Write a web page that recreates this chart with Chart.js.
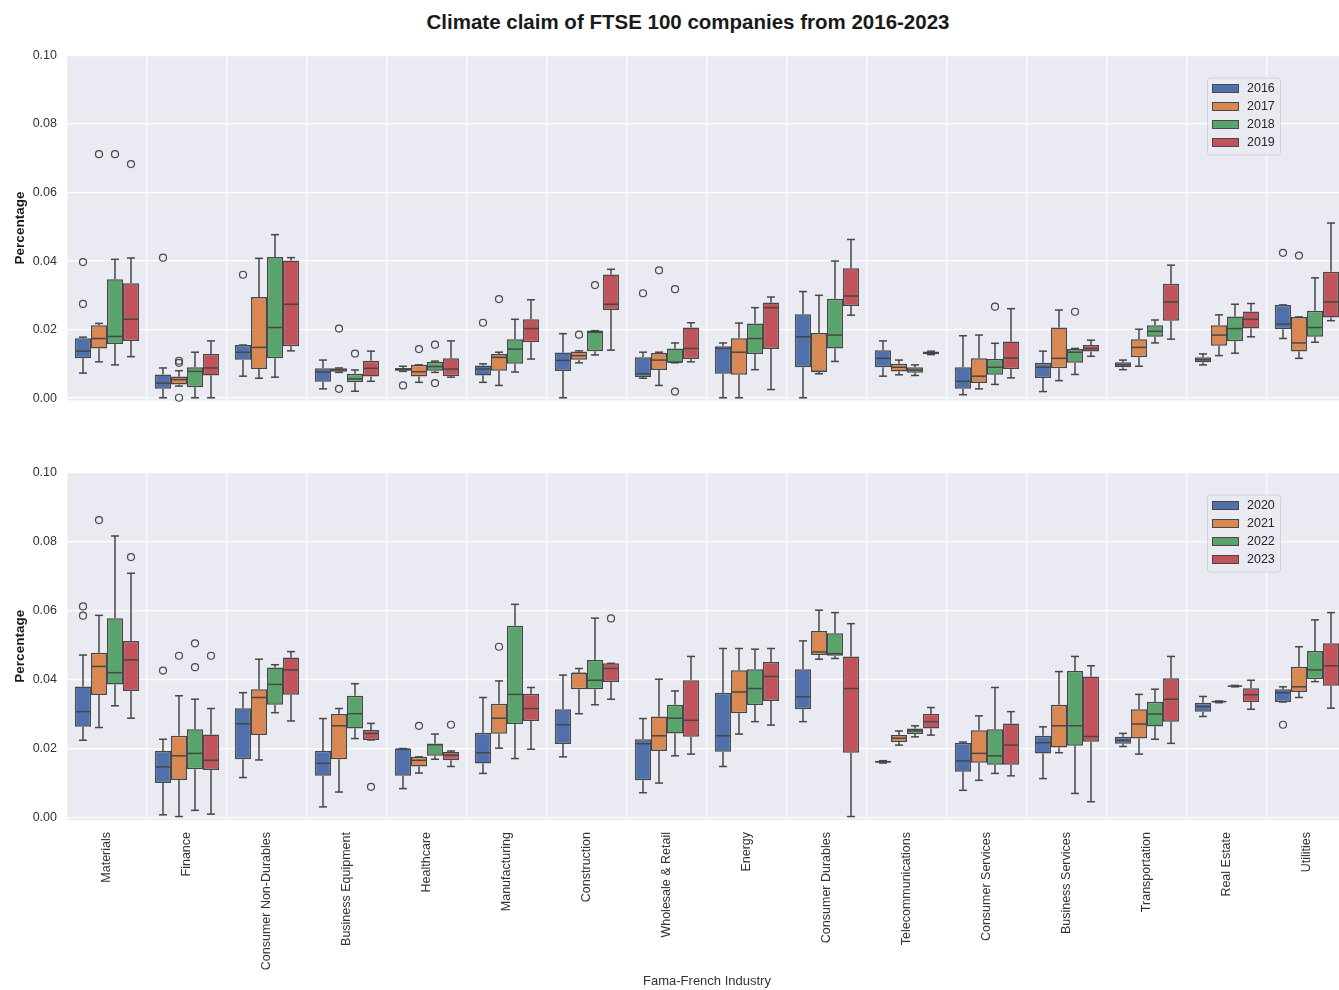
<!DOCTYPE html>
<html>
<head>
<meta charset="utf-8">
<script src="https://cdn.jsdelivr.net/npm/chart.js@4.4.0/dist/chart.umd.min.js"></script>
<style>
  body { margin: 0; background: #fff; overflow: hidden; width: 1339px; height: 990px; position: relative; }
  #title { position: absolute; top: 10px; left: 0; width: 1376px; text-align: center;
           font: bold 20.5px "Liberation Sans", Arial, sans-serif; color: #1a1a1a; }
  .panel { position: absolute; left: 0; }
</style>
</head>
<body>
<div id="title">Climate claim of FTSE 100 companies from 2016-2023</div>
<div class="panel" style="top:38px"><canvas id="topChart" width="1347" height="380"></canvas></div>
<div class="panel" style="top:455px"><canvas id="bottomChart" width="1347" height="535"></canvas></div>
<script>
// Fama-French industries on the x axis
const industries = [
  'Materials', 'Finance', 'Consumer Non-Durables', 'Business Equipment', 'Healthcare',
  'Manufacturing', 'Construction', 'Wholesale & Retail', 'Energy', 'Consumer Durables',
  'Telecommunications', 'Consumer Services', 'Business Services', 'Transportation',
  'Real Estate', 'Utilities'
];
const yearsTop = ['2016', '2017', '2018', '2019'];
const yearsBottom = ['2020', '2021', '2022', '2023'];
const yTicks = [0, 0.02, 0.04, 0.06, 0.08, 0.10];

// box stats per industry: [lower whisker, q1, median, q3, upper whisker]
const box2016 = [
  [0.0073, 0.0116, 0.0137, 0.0175, 0.0178], [0.0001, 0.0027, 0.0044, 0.0069, 0.0088],
  [0.0064, 0.0112, 0.0134, 0.0155, 0.0155], [0.0027, 0.0048, 0.0076, 0.0087, 0.0111],
  [0.0078, 0.0080, 0.0083, 0.0088, 0.0093], [0.0046, 0.0066, 0.0085, 0.0095, 0.0100],
  [0.0001, 0.0079, 0.0110, 0.0133, 0.0188], [0.0058, 0.0061, 0.0071, 0.0119, 0.0134],
  [0.0001, 0.0071, 0.0145, 0.0151, 0.0161], [0.0001, 0.0090, 0.0179, 0.0245, 0.0311],
  [0.0064, 0.0090, 0.0116, 0.0140, 0.0167], [0.0010, 0.0027, 0.0049, 0.0090, 0.0182],
  [0.0019, 0.0059, 0.0090, 0.0103, 0.0137], [0.0083, 0.0090, 0.0097, 0.0105, 0.0111],
  [0.0097, 0.0105, 0.0112, 0.0119, 0.0129], [0.0174, 0.0201, 0.0216, 0.0272, 0.0272]
];
const box2017 = [
  [0.0106, 0.0145, 0.0174, 0.0213, 0.0218], [0.0035, 0.0040, 0.0054, 0.0063, 0.0080],
  [0.0058, 0.0085, 0.0148, 0.0295, 0.0408], [0.0075, 0.0077, 0.0082, 0.0087, 0.0088],
  [0.0046, 0.0063, 0.0077, 0.0097, 0.0097], [0.0037, 0.0080, 0.0119, 0.0129, 0.0134],
  [0.0103, 0.0112, 0.0124, 0.0136, 0.0138], [0.0037, 0.0082, 0.0111, 0.0132, 0.0134],
  [0.0001, 0.0068, 0.0134, 0.0175, 0.0219], [0.0071, 0.0076, 0.0078, 0.0190, 0.0300],
  [0.0068, 0.0078, 0.0090, 0.0100, 0.0111], [0.0027, 0.0044, 0.0064, 0.0116, 0.0184],
  [0.0051, 0.0087, 0.0116, 0.0206, 0.0257], [0.0093, 0.0119, 0.0148, 0.0172, 0.0201],
  [0.0124, 0.0153, 0.0184, 0.0213, 0.0243], [0.0116, 0.0136, 0.0161, 0.0237, 0.0237]
];
const box2018 = [
  [0.0097, 0.0158, 0.0180, 0.0347, 0.0405], [0.0001, 0.0032, 0.0078, 0.0090, 0.0134],
  [0.0061, 0.0116, 0.0206, 0.0412, 0.0477], [0.0020, 0.0046, 0.0056, 0.0071, 0.0082],
  [0.0075, 0.0080, 0.0092, 0.0106, 0.0108], [0.0076, 0.0100, 0.0143, 0.0172, 0.0230],
  [0.0126, 0.0137, 0.0192, 0.0197, 0.0197], [0.0103, 0.0103, 0.0105, 0.0145, 0.0161],
  [0.0083, 0.0129, 0.0174, 0.0218, 0.0264], [0.0107, 0.0145, 0.0184, 0.0290, 0.0400],
  [0.0066, 0.0074, 0.0082, 0.0090, 0.0097], [0.0040, 0.0068, 0.0090, 0.0114, 0.0160],
  [0.0069, 0.0103, 0.0134, 0.0143, 0.0145], [0.0161, 0.0179, 0.0195, 0.0213, 0.0228],
  [0.0131, 0.0166, 0.0203, 0.0238, 0.0274], [0.0163, 0.0179, 0.0206, 0.0255, 0.0351]
];
const box2019 = [
  [0.0121, 0.0167, 0.0230, 0.0335, 0.0409], [0.0001, 0.0066, 0.0088, 0.0129, 0.0167],
  [0.0138, 0.0151, 0.0274, 0.0402, 0.0410], [0.0049, 0.0063, 0.0087, 0.0109, 0.0137],
  [0.0061, 0.0064, 0.0085, 0.0116, 0.0167], [0.0114, 0.0163, 0.0203, 0.0230, 0.0287],
  [0.0140, 0.0257, 0.0274, 0.0361, 0.0376], [0.0106, 0.0114, 0.0145, 0.0206, 0.0220],
  [0.0025, 0.0143, 0.0264, 0.0279, 0.0295], [0.0242, 0.0269, 0.0298, 0.0379, 0.0463],
  [0.0127, 0.0128, 0.0132, 0.0136, 0.0137], [0.0059, 0.0085, 0.0117, 0.0165, 0.0261],
  [0.0122, 0.0136, 0.0145, 0.0155, 0.0169], [0.0172, 0.0226, 0.0281, 0.0334, 0.0388],
  [0.0179, 0.0203, 0.0230, 0.0253, 0.0276], [0.0226, 0.0235, 0.0281, 0.0369, 0.0511]
];
const box2020 = [
  [0.0224, 0.0263, 0.0307, 0.0380, 0.0471], [0.0008, 0.0100, 0.0147, 0.0193, 0.0227],
  [0.0116, 0.0169, 0.0272, 0.0317, 0.0362], [0.0031, 0.0121, 0.0157, 0.0193, 0.0287],
  [0.0084, 0.0121, 0.0198, 0.0200, 0.0200], [0.0128, 0.0157, 0.0188, 0.0246, 0.0348],
  [0.0176, 0.0213, 0.0269, 0.0314, 0.0413], [0.0072, 0.0108, 0.0214, 0.0227, 0.0287],
  [0.0148, 0.0191, 0.0237, 0.0362, 0.0490], [0.0278, 0.0314, 0.0350, 0.0430, 0.0512],
  [0.0158, 0.0159, 0.0162, 0.0164, 0.0165], [0.0079, 0.0133, 0.0164, 0.0217, 0.0219],
  [0.0113, 0.0186, 0.0217, 0.0237, 0.0263], [0.0206, 0.0214, 0.0224, 0.0234, 0.0244],
  [0.0293, 0.0307, 0.0322, 0.0333, 0.0351], [0.0335, 0.0335, 0.0362, 0.0372, 0.0379]
];
const box2021 = [
  [0.0261, 0.0355, 0.0438, 0.0478, 0.0586], [0.0003, 0.0109, 0.0179, 0.0237, 0.0353],
  [0.0167, 0.0239, 0.0348, 0.0372, 0.0459], [0.0074, 0.0169, 0.0266, 0.0300, 0.0316],
  [0.0129, 0.0148, 0.0166, 0.0176, 0.0176], [0.0201, 0.0243, 0.0288, 0.0330, 0.0396],
  [0.0301, 0.0372, 0.0418, 0.0420, 0.0432], [0.0100, 0.0193, 0.0237, 0.0293, 0.0401],
  [0.0242, 0.0302, 0.0364, 0.0427, 0.0490], [0.0459, 0.0471, 0.0480, 0.0541, 0.0601],
  [0.0210, 0.0219, 0.0230, 0.0239, 0.0251], [0.0108, 0.0159, 0.0186, 0.0253, 0.0295],
  [0.0188, 0.0203, 0.0266, 0.0327, 0.0423], [0.0184, 0.0229, 0.0271, 0.0314, 0.0357],
  [0.0333, 0.0334, 0.0336, 0.0337, 0.0338], [0.0348, 0.0364, 0.0379, 0.0437, 0.0495]
];
const box2022 = [
  [0.0324, 0.0386, 0.0420, 0.0578, 0.0816], [0.0021, 0.0140, 0.0186, 0.0256, 0.0343],
  [0.0304, 0.0327, 0.0386, 0.0435, 0.0443], [0.0229, 0.0258, 0.0301, 0.0353, 0.0388],
  [0.0169, 0.0179, 0.0211, 0.0215, 0.0242], [0.0171, 0.0271, 0.0357, 0.0556, 0.0618],
  [0.0327, 0.0372, 0.0398, 0.0457, 0.0578], [0.0179, 0.0244, 0.0288, 0.0327, 0.0367],
  [0.0278, 0.0326, 0.0374, 0.0430, 0.0488], [0.0461, 0.0469, 0.0475, 0.0534, 0.0594],
  [0.0234, 0.0242, 0.0251, 0.0258, 0.0266], [0.0128, 0.0153, 0.0179, 0.0256, 0.0377],
  [0.0070, 0.0208, 0.0266, 0.0425, 0.0467], [0.0227, 0.0264, 0.0300, 0.0336, 0.0372],
  [0.0379, 0.0380, 0.0381, 0.0382, 0.0383], [0.0394, 0.0401, 0.0428, 0.0483, 0.0573]
];
const box2023 = [
  [0.0288, 0.0367, 0.0457, 0.0512, 0.0708], [0.0010, 0.0138, 0.0166, 0.0241, 0.0316],
  [0.0280, 0.0356, 0.0428, 0.0464, 0.0481], [0.0225, 0.0225, 0.0244, 0.0254, 0.0273],
  [0.0148, 0.0166, 0.0181, 0.0190, 0.0193], [0.0198, 0.0280, 0.0316, 0.0359, 0.0377],
  [0.0343, 0.0393, 0.0432, 0.0447, 0.0447], [0.0184, 0.0234, 0.0282, 0.0398, 0.0467],
  [0.0268, 0.0338, 0.0409, 0.0451, 0.0490], [0.0003, 0.0188, 0.0374, 0.0467, 0.0562],
  [0.0239, 0.0258, 0.0278, 0.0300, 0.0319], [0.0121, 0.0153, 0.0210, 0.0273, 0.0307],
  [0.0046, 0.0220, 0.0235, 0.0409, 0.0440], [0.0215, 0.0278, 0.0343, 0.0404, 0.0467],
  [0.0314, 0.0335, 0.0356, 0.0375, 0.0398], [0.0317, 0.0382, 0.0440, 0.0505, 0.0594]
];

// outliers per industry
const out2016 = [[0.0397, 0.0275], [0.0410], [0.0360], [], [0.0037], [0.0220], [], [0.0306], [], [], [], [], [], [], [], [0.0424]];
const out2017 = [[0.0712], [0.0109, 0.0103, 0.0001], [], [0.0203, 0.0027], [0.0143], [0.0289], [0.0185], [0.0373], [], [], [], [], [], [], [], [0.0416]];
const out2018 = [[0.0712], [], [], [0.0130], [0.0156, 0.0044], [], [0.0330], [0.0318, 0.0019], [], [], [], [0.0267], [0.0252], [], [], []];
const out2019 = [[0.0683], [], [], [], [], [], [], [], [], [], [], [], [], [], [], []];
const out2020 = [[0.0612, 0.0585], [0.0426], [], [], [], [], [], [], [], [], [], [], [], [], [], [0.0269]];
const out2021 = [[0.0862], [0.0469], [], [], [0.0266], [0.0495], [], [], [], [], [], [], [], [], [], []];
const out2022 = [[], [0.0505, 0.0436], [], [], [], [], [], [], [], [], [], [], [], [], [], []];
const out2023 = [[0.0755], [0.0469], [], [0.0089], [0.0269], [], [0.0577], [], [], [], [], [], [], [], [], []];

const colors = ['#4E70AD', '#DA8751', '#58A46B', '#C2535A'];
const edgeColor = '#474747';
const bgColor = '#EAEAF2';
const textColor = '#333333';
const fontFamily = '"Liberation Sans", Arial, sans-serif';

// axes background
const backgroundPlugin = {
  id: 'axesBackground',
  beforeDraw(chart) {
    const {ctx, chartArea} = chart;
    ctx.save();
    ctx.fillStyle = bgColor;
    ctx.fillRect(chartArea.left, chartArea.top, chartArea.right - chartArea.left, chartArea.bottom - chartArea.top);
    ctx.restore();
  }
};

// whiskers, medians and outliers on top of the floating bars
const whiskerPlugin = {
  id: 'whiskers',
  afterDatasetsDraw(chart) {
    const {ctx} = chart;
    const y = chart.scales.y;
    ctx.save();
    ctx.strokeStyle = edgeColor;
    ctx.lineWidth = 1.5;
    chart.data.datasets.forEach((ds, i) => {
      const meta = chart.getDatasetMeta(i);
      meta.data.forEach((bar, j) => {
        const [lo, q1, med, q3, hi] = ds.stats[j];
        const x = bar.x;
        const w = bar.width;
        const line = (x1, y1, x2, y2) => {
          ctx.beginPath(); ctx.moveTo(x1, y1); ctx.lineTo(x2, y2); ctx.stroke();
        };
        line(x, y.getPixelForValue(q1), x, y.getPixelForValue(lo));
        line(x, y.getPixelForValue(q3), x, y.getPixelForValue(hi));
        line(x - w / 4, y.getPixelForValue(lo), x + w / 4, y.getPixelForValue(lo));
        line(x - w / 4, y.getPixelForValue(hi), x + w / 4, y.getPixelForValue(hi));
        line(x - w / 2 + 1, y.getPixelForValue(med), x + w / 2 - 1, y.getPixelForValue(med));
        ds.outliers[j].forEach(v => {
          ctx.beginPath();
          ctx.lineWidth = 1.2;
          ctx.arc(x, y.getPixelForValue(v), 3.5, 0, Math.PI * 2);
          ctx.stroke();
          ctx.lineWidth = 1.5;
        });
      });
    });
    ctx.restore();
  }
};

// legend box inside the axes, upper right
const legendPlugin = {
  id: 'innerLegend',
  afterDraw(chart) {
    const {ctx, chartArea} = chart;
    const left = chartArea.right - 140;
    const top = chartArea.top + 22;
    ctx.save();
    ctx.fillStyle = 'rgba(234,234,242,0.9)';
    ctx.strokeStyle = '#d2d2d8';
    ctx.lineWidth = 1;
    ctx.beginPath();
    ctx.roundRect(left + 0.5, top + 0.5, 73, 77, 3);
    ctx.fill();
    ctx.stroke();
    ctx.font = '12.5px ' + fontFamily;
    ctx.textBaseline = 'middle';
    chart.data.datasets.forEach((ds, i) => {
      const cy = top + 11 + i * 18;
      ctx.fillStyle = ds.backgroundColor;
      ctx.fillRect(left + 5, cy - 4.5, 27, 9);
      ctx.strokeStyle = edgeColor;
      ctx.lineWidth = 1;
      ctx.strokeRect(left + 5.5, cy - 4, 26, 8);
      ctx.fillStyle = '#262626';
      ctx.fillText(ds.label, left + 40, cy + 0.5);
    });
    ctx.restore();
  }
};

function makeChart(canvasId, years, boxes, outliers, showX) {
  const datasets = years.map((year, i) => ({
    label: year,
    data: boxes[i].map(b => [b[1], b[3]]),
    stats: boxes[i],
    outliers: outliers[i],
    backgroundColor: colors[i],
    borderColor: edgeColor,
    borderWidth: 1.5,
    borderSkipped: false,
    categoryPercentage: 0.8,
    barPercentage: 1.0
  }));

  return new Chart(document.getElementById(canvasId), {
    type: 'bar',
    data: { labels: industries, datasets: datasets },
    options: {
      responsive: false,
      animation: false,
      layout: { padding: 0 },
      plugins: {
        legend: { display: false },
        tooltip: { enabled: false }
      },
      scales: {
        x: {
          offset: true,
          grid: { offset: true, color: '#ffffff', lineWidth: 1.3, drawTicks: false },
          border: { display: false },
          ticks: {
            display: showX,
            autoSkip: false,
            maxRotation: 90,
            minRotation: 90,
            padding: 12,
            color: textColor,
            font: { family: fontFamily, size: 12.5 }
          },
          afterFit: scale => { scale.height = showX ? 170 : 17; },
          title: {
            display: showX,
            text: 'Fama-French Industry',
            color: textColor,
            font: { family: fontFamily, size: 13 },
            padding: { top: 0, bottom: 1 }
          }
        },
        y: {
          min: -0.0007,
          max: 0.1,
          afterBuildTicks: scale => { scale.ticks = yTicks.map(v => ({ value: v })); },
          afterFit: scale => { scale.width = 67; },
          grid: { color: '#ffffff', lineWidth: 1.3, drawTicks: false },
          border: { display: false },
          ticks: {
            padding: 10,
            color: textColor,
            font: { family: fontFamily, size: 12.5 },
            callback: v => v.toFixed(2)
          },
          title: {
            display: true,
            text: 'Percentage',
            color: '#1a1a1a',
            font: { family: fontFamily, size: 13.5, weight: 'bold' },
            padding: { top: 12, bottom: 0 }
          }
        }
      }
    },
    plugins: [backgroundPlugin, whiskerPlugin, legendPlugin]
  });
}

makeChart('topChart', yearsTop, [box2016, box2017, box2018, box2019],
  [out2016, out2017, out2018, out2019], false);
makeChart('bottomChart', yearsBottom, [box2020, box2021, box2022, box2023],
  [out2020, out2021, out2022, out2023], true);
</script>
</body>
</html>
